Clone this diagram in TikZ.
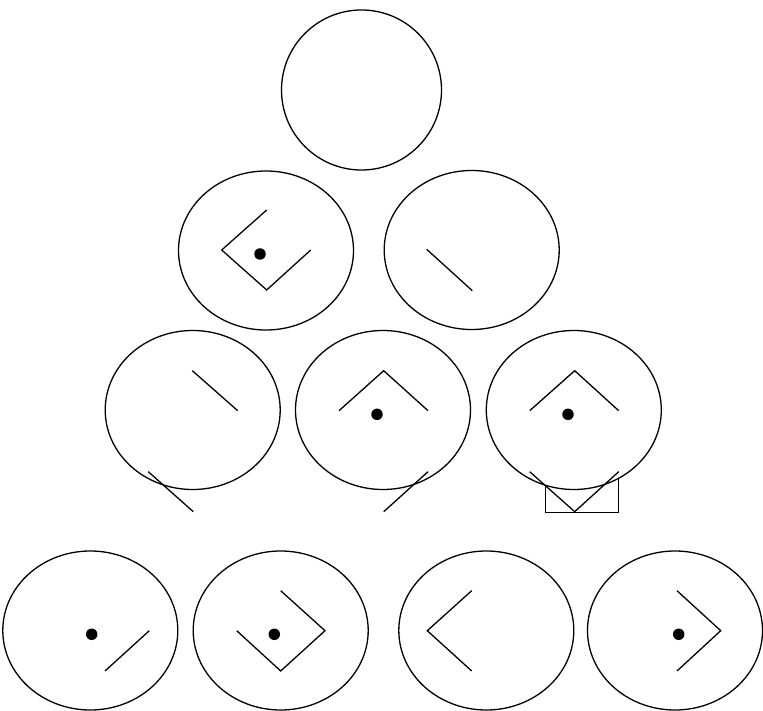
\documentclass[tikz,border=0pt]{standalone}
\usepackage{tikz}
\usetikzlibrary{shapes.geometric,backgrounds}

\begin{document}
\begin{tikzpicture}[
    x=1pt, y=-1pt,
    line width=1.3pt,
    head/.style={draw, ellipse, fill=white, minimum width=175pt,
                 minimum height=159pt, inner sep=0pt},
    bald/.style={draw, circle, fill=white, minimum size=160pt, inner sep=0pt},
    eye/.style={circle, fill=black, draw=none, inner sep=0pt, minimum size=11.5pt}
]
\useasboundingbox (0,0) rectangle (763,711);

% faces, top to bottom
\node[bald] (top) at (361.5,90) {};
\node[head] (rowBa) at (266,250.5) {};
\node[head] (rowBb) at (471.7,250) {};
\node[head] (rowCa) at (192.7,410) {};
\node[head] (rowCb) at (383,410) {};
\node[head] (rowCc) at (573.8,410) {};
\node[head] (rowDa) at (90.3,630.5) {};
\node[head] (rowDb) at (280.7,630.5) {};
\node[head] (rowDc) at (486.3,630.5) {};
\node[head] (rowDd) at (675,630.5) {};

% second row
\begin{scope}[shift={(rowBa.center)}]
  \draw (0.7,-40.5) -- (-44.3,-0.5) -- (0.7,39.5) -- (44.7,-0.5);
  \node[eye] (eyeBa) at (-6,3.5) {};
\end{scope}
\begin{scope}[shift={(rowBb.center)}]
  \draw (-45,-0.7) -- (0.6,40.7);
\end{scope}

% third row
\begin{scope}[shift={(rowCa.center)}]
  \draw (-0.4,-39.3) -- (45,0.7);
  \draw (-44.4,61.7) -- (0.6,101.7);
\end{scope}
\begin{scope}[shift={(rowCb.center)}]
  \draw (-44,0.7) -- (0.7,-39.3) -- (45,0.7);
  \node[eye] (eyeCb) at (-6,4.3) {};
  \draw (45,61.7) -- (0.7,101.7);
\end{scope}
\begin{scope}[shift={(rowCc.center)}]
  \draw (-44.1,0.7) -- (0.9,-39.3) -- (44.9,0.7);
  \node[eye] (eyeCc) at (-5.8,4.3) {};
  \draw (-44.1,61.7) -- (0.9,101.7) -- (44.9,61.7);
\end{scope}
\begin{scope}[on background layer, shift={(rowCc.center)}]
  \draw (-29.1,60) rectangle (44.2,101.7);
\end{scope}

% bottom row
\begin{scope}[shift={(rowDa.center)}]
  \node[eye] (eyeDa) at (1.4,3.8) {};
  \draw (59,0.2) -- (14.7,40.5);
\end{scope}
\begin{scope}[shift={(rowDb.center)}]
  \node[eye] (eyeDb) at (-6.4,3.8) {};
  \draw (0,-39.8) -- (44.3,0.2) -- (0,40.5) -- (-44,0.2);
\end{scope}
\begin{scope}[shift={(rowDc.center)}]
  \draw (-14.6,-39.8) -- (-59,0.2) -- (-14.6,40.5);
\end{scope}
\begin{scope}[shift={(rowDd.center)}]
  \node[eye] (eyeDd) at (3.7,3.8) {};
  \draw (2,-39.8) -- (45.7,0.2) -- (2,40.5);
\end{scope}
\end{tikzpicture}
\end{document}
